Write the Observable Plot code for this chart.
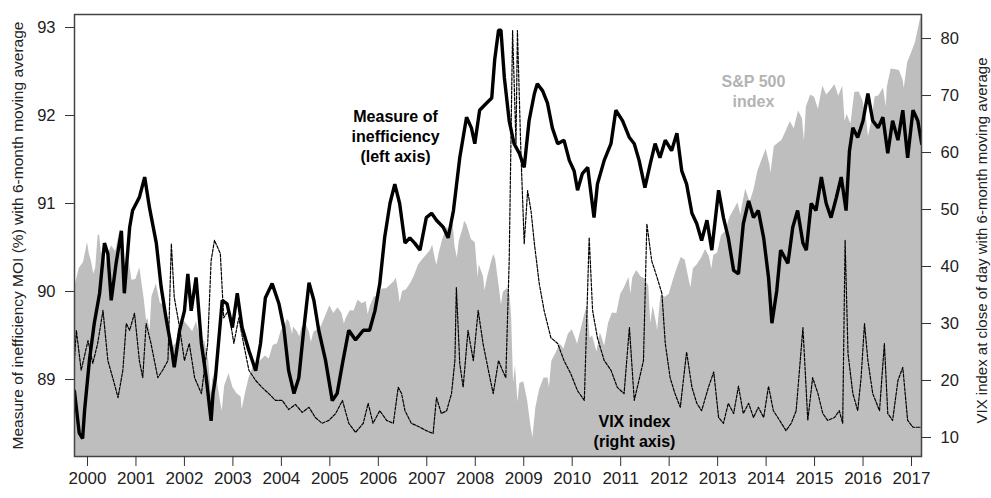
<!DOCTYPE html>
<html>
<head>
<meta charset="utf-8">
<script src="https://cdn.jsdelivr.net/npm/d3@7"></script>
<script src="https://cdn.jsdelivr.net/npm/@observablehq/plot@0.6"></script>
<style>
  html, body { margin: 0; padding: 0; background: #fff; }
  #chart svg { display: block; }
</style>
</head>
<body>
<div id="chart"></div>
<script>
// ---------- data (decimal year, value) ----------
const yearTicks = [2000,2001,2002,2003,2004,2005,2006,2007,2008,2009,2010,2011,2012,2013,2014,2015,2016,2017];
const leftTicks = [89, 90, 91, 92, 93];
const rightTicks = [10, 20, 30, 40, 50, 60, 70, 80];

// Measure of inefficiency MOI (%), 6-month moving average (left axis)
const moi = [
  [1999.73,88.87],[1999.83,88.39],[1999.90,88.33],[1999.94,88.65],[2000.04,89.22],[2000.14,89.64],
  [2000.25,89.98],[2000.35,90.55],[2000.42,90.43],[2000.49,89.90],[2000.59,90.32],[2000.70,90.69],
  [2000.76,89.98],[2000.87,90.73],[2000.93,90.92],[2001.07,91.07],[2001.18,91.30],[2001.28,90.95],
  [2001.42,90.55],[2001.52,90.05],[2001.62,89.70],[2001.73,89.36],[2001.79,89.14],[2001.90,89.56],
  [2002.00,89.78],[2002.07,90.20],[2002.14,89.78],[2002.24,90.16],[2002.35,89.41],[2002.45,89.02],
  [2002.55,88.53],[2002.59,88.84],[2002.64,89.02],[2002.78,89.90],[2002.88,89.86],[2002.99,89.59],
  [2003.09,89.98],[2003.19,89.59],[2003.33,89.33],[2003.47,89.10],[2003.57,89.41],[2003.67,89.93],
  [2003.81,90.09],[2003.95,89.86],[2004.05,89.59],[2004.15,89.10],[2004.26,88.84],[2004.36,89.02],
  [2004.46,89.56],[2004.57,90.10],[2004.67,89.90],[2004.77,89.56],[2004.91,89.22],[2005.05,88.76],
  [2005.15,88.84],[2005.26,89.18],[2005.39,89.56],[2005.53,89.45],[2005.69,89.56],[2005.82,89.56],
  [2005.93,89.78],[2006.03,90.09],[2006.13,90.61],[2006.24,91.00],[2006.34,91.22],[2006.44,91.00],
  [2006.55,90.55],[2006.65,90.61],[2006.75,90.55],[2006.86,90.47],[2006.99,90.84],[2007.10,90.89],
  [2007.20,90.81],[2007.34,90.73],[2007.44,90.61],[2007.55,90.92],[2007.68,91.52],[2007.82,91.98],
  [2007.92,91.86],[2007.99,91.68],[2008.09,92.06],[2008.23,92.14],[2008.34,92.20],[2008.40,92.63],
  [2008.48,92.97],[2008.53,92.97],[2008.60,92.43],[2008.70,91.94],[2008.80,91.68],[2008.91,91.57],
  [2009.01,91.41],[2009.11,91.94],[2009.22,92.25],[2009.28,92.36],[2009.39,92.28],[2009.49,92.14],
  [2009.59,91.86],[2009.70,91.68],[2009.83,91.72],[2009.94,91.49],[2010.04,91.37],[2010.11,91.15],
  [2010.21,91.34],[2010.32,91.41],[2010.45,90.84],[2010.52,91.22],[2010.66,91.49],[2010.80,91.68],
  [2010.90,92.06],[2011.04,91.94],[2011.18,91.75],[2011.28,91.68],[2011.38,91.49],[2011.50,91.18],
  [2011.61,91.45],[2011.71,91.68],[2011.81,91.52],[2011.92,91.72],[2012.05,91.60],[2012.16,91.80],
  [2012.26,91.37],[2012.36,91.22],[2012.47,90.89],[2012.57,90.77],[2012.67,90.58],[2012.78,90.81],
  [2012.88,90.47],[2013.02,91.15],[2013.12,90.84],[2013.22,90.61],[2013.33,90.24],[2013.43,90.20],
  [2013.53,90.77],[2013.64,91.03],[2013.74,90.84],[2013.84,90.92],[2013.95,90.61],[2014.05,90.16],
  [2014.12,89.64],[2014.22,90.01],[2014.30,90.47],[2014.38,90.39],[2014.45,90.32],[2014.55,90.73],
  [2014.65,90.92],[2014.76,90.55],[2014.83,90.47],[2014.93,91.00],[2015.03,90.92],[2015.14,91.30],
  [2015.24,91.00],[2015.34,90.84],[2015.45,91.07],[2015.55,91.30],[2015.65,90.92],[2015.72,91.60],
  [2015.79,91.86],[2015.89,91.75],[2016.00,91.94],[2016.10,92.25],[2016.20,91.94],[2016.31,91.86],
  [2016.41,91.98],[2016.51,91.57],[2016.61,91.94],[2016.72,91.72],[2016.82,92.06],[2016.92,91.52],
  [2017.03,92.06],[2017.13,91.94],[2017.21,91.68]
];

// VIX index at close of day, 6-month moving average (right axis)
const vix = [
  [1999.73,23.5],[1999.77,28.8],[1999.87,21.8],[2000.01,27.0],[2000.11,23.0],[2000.21,26.5],
  [2000.32,32.3],[2000.42,23.5],[2000.52,20.5],[2000.63,17.0],[2000.73,21.8],[2000.80,30.0],
  [2000.87,28.8],[2000.97,31.8],[2001.07,23.5],[2001.14,20.5],[2001.21,30.0],[2001.31,26.5],
  [2001.45,20.5],[2001.55,21.8],[2001.66,23.5],[2001.73,44.0],[2001.79,34.6],[2001.90,29.3],
  [2002.00,23.5],[2002.10,26.5],[2002.21,20.5],[2002.35,17.7],[2002.48,26.5],[2002.55,41.0],
  [2002.62,44.6],[2002.74,42.3],[2002.81,31.0],[2002.91,32.3],[2003.02,26.5],[2003.12,31.0],
  [2003.22,26.5],[2003.33,21.8],[2003.47,20.0],[2003.60,18.8],[2003.74,17.7],[2003.88,16.5],
  [2004.02,16.5],[2004.15,14.9],[2004.29,15.8],[2004.43,14.4],[2004.57,15.3],[2004.70,13.5],
  [2004.84,12.5],[2004.98,13.0],[2005.12,14.2],[2005.26,16.5],[2005.39,12.5],[2005.53,10.9],
  [2005.69,12.5],[2005.79,16.0],[2005.89,12.5],[2006.03,14.7],[2006.17,13.0],[2006.31,12.5],
  [2006.41,18.8],[2006.48,17.7],[2006.55,14.7],[2006.68,12.5],[2006.86,11.8],[2006.99,11.2],
  [2007.13,10.7],[2007.20,17.0],[2007.30,14.2],[2007.41,14.7],[2007.51,17.7],[2007.58,23.5],
  [2007.61,36.3],[2007.68,23.0],[2007.75,18.8],[2007.85,28.8],[2007.96,23.5],[2008.06,32.3],
  [2008.16,26.5],[2008.27,21.8],[2008.37,17.7],[2008.48,23.5],[2008.56,21.8],[2008.63,20.5],
  [2008.70,41.0],[2008.77,81.4],[2008.84,61.6],[2008.87,81.4],[2008.94,60.4],[2009.01,44.0],
  [2009.08,53.3],[2009.15,49.8],[2009.22,44.0],[2009.32,37.0],[2009.42,32.3],[2009.56,27.5],
  [2009.70,26.5],[2009.83,23.5],[2009.97,21.2],[2010.11,18.2],[2010.25,16.5],[2010.35,45.1],
  [2010.42,32.3],[2010.52,27.5],[2010.66,23.5],[2010.80,21.8],[2010.93,18.8],[2011.07,17.7],
  [2011.18,29.3],[2011.28,16.5],[2011.39,20.5],[2011.47,23.5],[2011.54,47.5],[2011.64,41.0],
  [2011.75,38.1],[2011.85,35.3],[2011.92,26.5],[2012.02,20.5],[2012.12,17.7],[2012.23,15.3],
  [2012.36,25.0],[2012.47,18.8],[2012.57,16.0],[2012.67,14.7],[2012.81,18.8],[2012.92,21.5],
  [2013.02,13.5],[2013.12,12.5],[2013.22,16.0],[2013.33,14.2],[2013.43,19.0],[2013.53,14.2],
  [2013.64,16.0],[2013.74,13.5],[2013.84,15.3],[2013.95,13.5],[2014.05,19.0],[2014.15,14.7],
  [2014.28,13.0],[2014.41,11.2],[2014.52,12.5],[2014.62,14.7],[2014.76,29.3],[2014.86,13.0],
  [2014.96,20.5],[2015.07,17.7],[2015.17,14.2],[2015.27,13.0],[2015.41,13.5],[2015.51,14.7],
  [2015.58,12.5],[2015.63,44.6],[2015.69,24.7],[2015.79,17.7],[2015.89,14.7],[2015.96,20.5],
  [2016.03,30.0],[2016.10,23.5],[2016.20,17.7],[2016.34,14.7],[2016.44,26.5],[2016.51,14.2],
  [2016.61,13.0],[2016.72,20.0],[2016.82,22.3],[2016.92,13.0],[2017.03,11.8],[2017.21,11.8]
];

// S&P 500 index level (no axis; shaded background)
const sp500 = [
  [1999.73,1283],[1999.83,1363],[1999.92,1389],[2000.00,1469],[2000.04,1420],[2000.08,1394],
  [2000.13,1340],[2000.17,1366],[2000.22,1499],[2000.25,1500],[2000.29,1420],[2000.33,1452],
  [2000.38,1380],[2000.42,1421],[2000.50,1455],[2000.58,1431],[2000.67,1518],[2000.75,1437],
  [2000.79,1360],[2000.83,1429],[2000.92,1315],[2001.00,1320],[2001.08,1366],[2001.17,1240],
  [2001.22,1150],[2001.25,1160],[2001.29,1110],[2001.33,1249],[2001.42,1300],[2001.50,1224],
  [2001.58,1211],[2001.67,1134],[2001.72,1000],[2001.75,1041],[2001.83,1060],[2001.92,1139],
  [2002.00,1148],[2002.08,1130],[2002.17,1107],[2002.25,1147],[2002.33,1076],[2002.42,1067],
  [2002.50,990],[2002.56,840],[2002.58,912],[2002.65,950],[2002.67,916],[2002.75,815],
  [2002.78,785],[2002.83,886],[2002.92,936],[2003.00,880],[2003.08,856],[2003.17,841],
  [2003.19,790],[2003.25,848],[2003.33,917],[2003.42,964],[2003.50,975],[2003.58,990],
  [2003.67,1008],[2003.75,996],[2003.83,1051],[2003.92,1058],[2004.00,1112],[2004.08,1131],
  [2004.12,1157],[2004.17,1145],[2004.23,1095],[2004.25,1126],[2004.33,1107],[2004.38,1085],
  [2004.42,1121],[2004.50,1141],[2004.58,1102],[2004.62,1064],[2004.67,1104],[2004.75,1115],
  [2004.83,1130],[2004.92,1174],[2005.00,1212],[2005.08,1181],[2005.17,1204],[2005.25,1181],
  [2005.30,1138],[2005.33,1157],[2005.42,1192],[2005.50,1191],[2005.58,1234],[2005.67,1220],
  [2005.75,1229],[2005.79,1177],[2005.83,1207],[2005.92,1249],[2006.00,1248],[2006.08,1280],
  [2006.17,1281],[2006.25,1295],[2006.33,1311],[2006.37,1325],[2006.42,1270],[2006.45,1223],
  [2006.50,1270],[2006.58,1277],[2006.67,1304],[2006.75,1336],[2006.83,1378],[2006.92,1401],
  [2007.00,1418],[2007.08,1438],[2007.12,1459],[2007.17,1407],[2007.21,1377],[2007.25,1421],
  [2007.33,1482],[2007.42,1531],[2007.50,1503],[2007.54,1553],[2007.58,1455],[2007.63,1406],
  [2007.67,1474],[2007.75,1527],[2007.78,1555],[2007.83,1540],[2007.92,1481],[2008.00,1468],
  [2008.06,1325],[2008.08,1379],[2008.17,1331],[2008.20,1273],[2008.25,1323],[2008.33,1386],
  [2008.38,1420],[2008.42,1400],[2008.50,1280],[2008.54,1215],[2008.58,1267],[2008.67,1283],
  [2008.72,1250],[2008.75,1166],[2008.79,899],[2008.83,969],[2008.88,820],[2008.92,896],
  [2009.00,903],[2009.08,826],[2009.15,720],[2009.19,677],[2009.25,798],[2009.33,873],
  [2009.42,919],[2009.50,919],[2009.53,880],[2009.58,987],[2009.67,1021],[2009.75,1057],
  [2009.83,1036],[2009.92,1096],[2010.00,1115],[2010.08,1074],[2010.11,1056],[2010.17,1104],
  [2010.25,1169],[2010.31,1210],[2010.33,1187],[2010.37,1080],[2010.42,1089],[2010.50,1031],
  [2010.51,1025],[2010.58,1102],[2010.67,1049],[2010.75,1141],[2010.83,1183],[2010.92,1181],
  [2011.00,1258],[2011.08,1286],[2011.17,1327],[2011.21,1260],[2011.25,1326],[2011.33,1355],
  [2011.42,1330],[2011.50,1321],[2011.58,1292],[2011.62,1140],[2011.67,1210],[2011.75,1131],
  [2011.76,1110],[2011.83,1253],[2011.92,1247],[2012.00,1258],[2012.08,1312],[2012.17,1366],
  [2012.25,1408],[2012.33,1398],[2012.42,1310],[2012.45,1285],[2012.50,1362],[2012.58,1379],
  [2012.67,1406],[2012.75,1441],[2012.83,1412],[2012.88,1360],[2012.92,1416],[2013.00,1426],
  [2013.08,1498],[2013.17,1515],[2013.25,1569],[2013.33,1598],[2013.42,1631],[2013.48,1580],
  [2013.50,1606],[2013.58,1686],[2013.67,1633],[2013.75,1682],[2013.83,1757],[2013.92,1806],
  [2014.00,1848],[2014.08,1783],[2014.10,1750],[2014.17,1859],[2014.25,1872],[2014.33,1884],
  [2014.42,1924],[2014.50,1960],[2014.58,1931],[2014.67,2003],[2014.75,1972],[2014.79,1880],
  [2014.83,2018],[2014.92,2068],[2015.00,2059],[2015.08,2010],[2015.17,2105],[2015.25,2068],
  [2015.33,2086],[2015.42,2110],[2015.50,2063],[2015.58,2104],[2015.63,1960],[2015.67,1990],
  [2015.75,1950],[2015.83,2079],[2015.92,2080],[2016.00,2044],[2016.08,1960],[2016.11,1900],
  [2016.17,1950],[2016.25,2060],[2016.33,2065],[2016.42,2097],[2016.48,2020],[2016.50,2099],
  [2016.58,2174],[2016.67,2171],[2016.75,2168],[2016.83,2126],[2016.85,2095],[2016.92,2199],
  [2017.00,2239],[2017.08,2279],[2017.17,2364],[2017.21,2395]
];

// ---------- dual-axis mapping into left-axis units ----------
const vixToLeft = v => 88.341 + (v - 10) * 0.06477;
const spToLeft  = s => 88.341 + (s - 677) * 0.0027977;
const yMin = 88.125, yMax = 93.148;

const font = "'Liberation Sans', Arial, Helvetica, sans-serif";

const chart = Plot.plot({
  width: 991,
  height: 498,
  marginLeft: 74,
  marginRight: 70,
  marginTop: 14,
  marginBottom: 42,
  x: {domain: [1999.732, 2017.206]},
  y: {domain: [yMin, yMax]},
  style: {fontFamily: font, fontSize: "16px", color: "#222", background: "#fff", overflow: "visible"},
  marks: [
    Plot.areaY(sp500, {x: d => d[0], y1: yMin, y2: d => spToLeft(d[1]), fill: "#bebebe", clip: true}),
    Plot.line(vix, {x: d => d[0], y: d => vixToLeft(d[1]), stroke: "#000", strokeWidth: 1.2, strokeDasharray: "3,1.5", clip: true}),
    Plot.line(moi, {x: d => d[0], y: d => d[1], stroke: "#000", strokeWidth: 3.4, strokeLinejoin: "miter", clip: true}),
    Plot.frame({stroke: "#444", strokeWidth: 1.5}),
    Plot.axisX(yearTicks, {anchor: "bottom", tickSize: 10, tickPadding: 5, tickFormat: d => String(d), fontSize: 17, label: null, stroke: "#333"}),
    Plot.axisY(leftTicks, {anchor: "left", tickSize: 9, tickPadding: 10, fontSize: 16.5, label: null, stroke: "#333",
      tickFormat: d => String(d)}),
    Plot.axisY(rightTicks.map(vixToLeft), {anchor: "right", tickSize: 9, tickPadding: 10, fontSize: 16.5, label: null, stroke: "#333",
      tickFormat: (d, i) => String(rightTicks[i])}),
    Plot.text(["Measure of inefficiency MOI (%) with 6-month moving average"], {frameAnchor: "left", textAnchor: "middle", dx: -56, dy: 0, rotate: -90, fontSize: 15.5, fill: "#222"}),
    Plot.text(["VIX index at close of day with 6-month moving average"], {frameAnchor: "right", textAnchor: "middle", dx: 61, dy: 5, rotate: -90, fontSize: 15, fill: "#222"}),
    Plot.text(["Measure of\ninefficiency\n(left axis)"], {x: 2006.355, y: 91.77, fontWeight: "bold", fontSize: 16, lineHeight: 1.25, fill: "#000"}),
    Plot.text(["VIX index\n(right axis)"], {x: 2011.285, y: 88.42, fontWeight: "bold", fontSize: 16, lineHeight: 1.25, fill: "#000"}),
    Plot.text(["S&P 500\nindex"], {x: 2013.74, y: 92.284, fontWeight: "bold", fontSize: 16, lineHeight: 1.25, fill: "#b3b3b3"})
  ]
});
document.getElementById("chart").appendChild(chart);
</script>
</body>
</html>
